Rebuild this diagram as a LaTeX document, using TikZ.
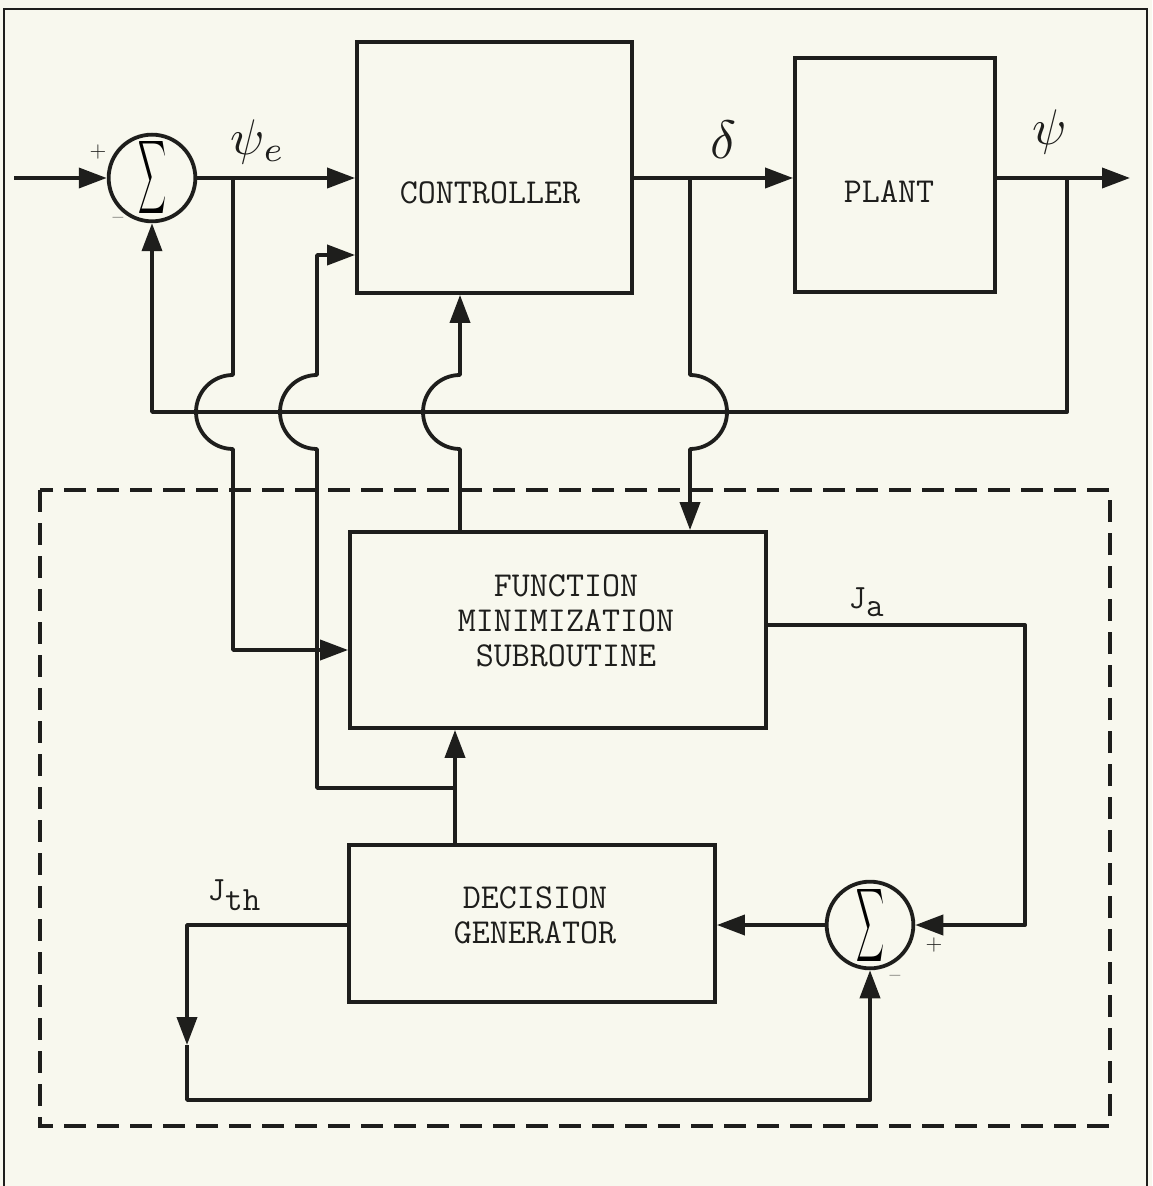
\documentclass[tikz,border=0pt]{standalone}
\usepackage{fontspec}
\usepackage{graphicx}
\usetikzlibrary{arrows.meta}
\definecolor{paper}{RGB}{248,248,238}
\definecolor{ink}{RGB}{30,30,28}
\begin{document}
\begin{tikzpicture}[x=0.5pt,y=-0.5pt,
  line/.style={draw=ink,line width=1.9pt,line join=round},
  arr/.style={line,-{Triangle[length=14pt,width=10pt]}},
  blk/.style={draw=ink,line width=1.9pt,rectangle,inner sep=0pt},
  sumnode/.style={draw=ink,line width=1.9pt,circle,minimum size=38pt,inner sep=0pt},
  txt/.style={font=\ttfamily\fontsize{17.5}{17.5}\selectfont,text=ink,align=center,inner sep=0pt},
  sgn/.style={font=\fontsize{11}{11}\selectfont,text=ink,inner sep=0pt},
  lbl/.style={text=ink,inner sep=0pt},
  dashbox/.style={draw=ink,line width=1.8pt,dash pattern=on 11pt off 5.5pt}]
\useasboundingbox (0,0) rectangle (1152,1186);
\fill[paper] (0,0) rectangle (1152,1186);
\draw[ink,line width=1pt] (4,1186) -- (4,9) -- (1147,9) -- (1147,1186);
% blocks
\node[blk,minimum width=137.5pt,minimum height=125.5pt] (ctrl) at (494.5,167.5) {};
\node[blk,minimum width=100pt,minimum height=117pt] (plant) at (895,175) {};
\node[blk,minimum width=208pt,minimum height=98pt] (fms) at (558,630) {};
\node[blk,minimum width=183pt,minimum height=78.5pt] (dg) at (532,923.5) {};
\node[txt] (ctrltxt) at (490,193) {CONTROLLER};
\node[txt] (planttxt) at (889,192) {PLANT};
\node[txt] (fmstxt) at (566,621) {FUNCTION\\MINIMIZATION\\SUBROUTINE};
\node[txt] (dgtxt) at (535,915) {DECISION\\GENERATOR};
% summing junctions
\node[sumnode] (s1) at (152,178) {\resizebox{14pt}{27pt}{$\displaystyle\sum$}};
\node[sumnode] (s2) at (870,925) {\resizebox{14pt}{27pt}{$\displaystyle\sum$}};
\node[sgn] (p1) at (98,152) {+};
\node[sgn] (m1) at (118,220) {--};
\node[sgn] (p2) at (934,945) {+};
\node[sgn] (m2) at (895,978) {--};
% labels
\node[lbl] (psie) at (258,142) {\scalebox{2.5}{$\psi_e$}};
\node[lbl] (delta) at (724,140) {\scalebox{2.7}{$\delta$}};
\node[lbl] (psi) at (1050,132) {\scalebox{2.5}{$\psi$}};
\node[lbl,font=\ttfamily\fontsize{17}{17}\selectfont] (ja) at (866,602) {J\raisebox{-4pt}{a}};
\node[lbl,font=\ttfamily\fontsize{17}{17}\selectfont] (jth) at (234,895) {J\raisebox{-5pt}{th}};
% coordinates
\coordinate (in) at (14,178);
\coordinate (out) at (1130,178);
\coordinate (be) at (233,178);
\coordinate (bd) at (690,178);
\coordinate (bp) at (1067,178);
\coordinate (fbl) at (152,412);
\coordinate (j1) at (455,788);
\coordinate (jm) at (187,1045);
\coordinate (lb) at (187,1100);
% main forward path
\draw[arr] (in) -- (s1.west);
\draw[arr] (s1.east) -- (s1.east -| ctrl.west);
\draw[arr] (bd -| ctrl.east) -- (bd -| plant.west);
\draw[arr] (bp -| plant.east) -- (out);
% feedback
\draw[arr] (bp) -- (1067,412) -- (fbl) -- (s1.south);
% psi_e branch to FMS
\draw[arr] (be) -- (233,375) arc[start angle=90,end angle=270,radius=18.5pt] -- (233,650) -- (fms.west |- 0,650);
% DG junction to controller second input
\draw[arr] (j1) -- (317,788) -- (317,449) arc[start angle=270,end angle=90,radius=18.5pt] -- (317,255) -- (ctrl.west |- 0,255);
% FMS to controller
\draw[arr] (fms.north -| 460,0) -- (460,449) arc[start angle=270,end angle=90,radius=18.5pt] -- (ctrl.south -| 460,0);
% delta branch to FMS
\draw[arr] (bd) -- (690,375) arc[start angle=90,end angle=-90,radius=18.5pt] -- (fms.north -| 690,0);
% DG to FMS
\draw[arr] (dg.north -| j1) -- (fms.south -| j1);
% Ja
\draw[arr] (fms.east |- 0,625) -- (1025,625) -- (1025,925) -- (s2.east);
\draw[arr] (s2.west) -- (dg.east |- s2.west);
% Jth
\draw[arr] (dg.west |- s2.west) -- (187,925) -- (jm);
\draw[arr] (jm) -- (lb) -- (lb -| s2.south) -- (s2.south);
% dashed box
\draw[dashbox] (40,490) rectangle (1110,1126);
\end{tikzpicture}
\end{document}
